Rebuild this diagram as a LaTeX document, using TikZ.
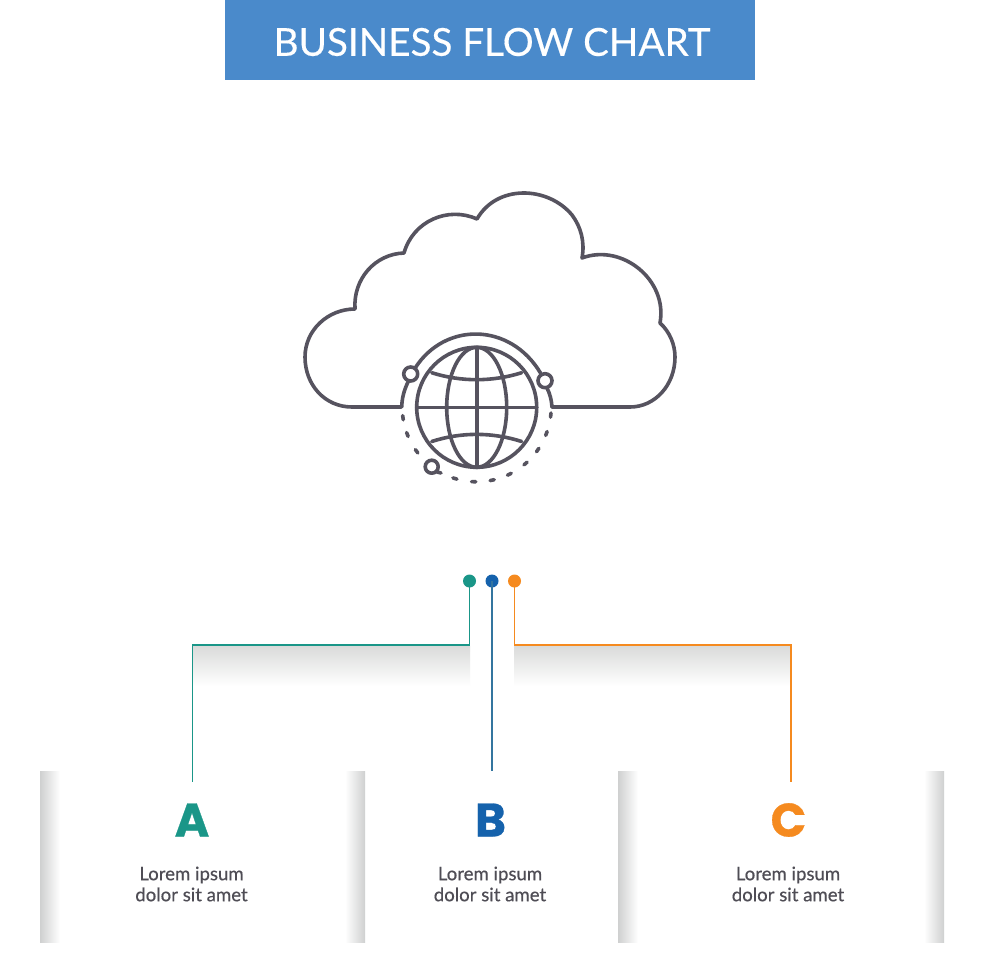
\documentclass[tikz,border=0pt]{standalone}
\usepackage{fontspec}
\usetikzlibrary{calc}
\setmainfont[FakeBold=0.35]{Lato}
\newfontfamily\heavyfont[FakeBold=0.6]{Poppins}
\definecolor{titleblue}{HTML}{4A8ACB}
\definecolor{inkgrey}{HTML}{56535F}
\definecolor{textgrey}{HTML}{4F4D55}
\definecolor{tealc}{HTML}{1A9688}
\definecolor{bluec}{HTML}{1562AC}
\definecolor{bluewire}{HTML}{34759F}
\definecolor{orangec}{HTML}{F58A1F}
\definecolor{shadeg}{HTML}{CFD0D0}
\definecolor{shadeh}{HTML}{DADBDA}
\tikzset{
  icon/.style={draw=inkgrey,line width=3.6pt,line cap=round,line join=round},
  dot/.style={circle,inner sep=0pt,minimum size=13pt},
  wire/.style={line width=1.5pt},
  bigletter/.style={font=\heavyfont\bfseries\fontsize{47}{47}\selectfont,inner sep=0pt},
  body/.style={font=\fontsize{18.6}{21}\selectfont,text=textgrey,align=center,inner sep=0pt},
}
\begin{document}
\begin{tikzpicture}[x=1pt,y=-1pt]
\useasboundingbox (0,0) rectangle (980,980);
\fill[white] (0,0) rectangle (980,980);
% title
\node[fill=titleblue,minimum width=530pt,minimum height=80.5pt,inner sep=0pt] (title) at (490,40) {};
\node[text=white,font=\fontsize{38.6}{39}\selectfont,inner sep=0pt] (titletext) at (492,42) {BUSINESS FLOW CHART};
% cloud
\draw[icon] (401,407) -- (352,407)
  .. controls (325,407) and (305,385) .. (305,357)
  .. controls (305,330) and (328,309) .. (355,309)
  .. controls (353,279) and (375,254) .. (404,253)
  .. controls (413,221) and (448,206) .. (477,219)
  .. controls (497,184) and (548,186) .. (572,215)
  .. controls (581,227) and (585,242) .. (582,258)
  .. controls (622,243) and (668,280) .. (660,323)
  .. controls (670,332) and (675,345) .. (675,357)
  .. controls (675,385) and (655,407) .. (630,407)
  -- (552,407);
% globe
\coordinate (gc) at (476.7,407.3);
\draw[icon] (gc) circle (60);
\draw[icon] (gc) ellipse (30 and 60);
\draw[icon] (476.7,347.3) -- (476.7,467.3);
\draw[icon] (416.7,407.3) -- (536.7,407.3);
\draw[icon] (431.7,372.7) .. controls (461,382) and (492,382) .. (521.7,372.7);
\draw[icon] (431.7,441.5) .. controls (461,432) and (492,432) .. (521.7,441.5);
% orbit
\draw[icon] (415.5,367.5) .. controls (445,322) and (510,322) .. (540.5,373);
\draw[icon] (408.5,381) .. controls (404,390) and (402,398) .. (401.7,407);
\draw[icon] (547,388) .. controls (550,394) and (551.5,400) .. (552,407);
\draw[icon] (410.7,374) circle (7);
\draw[icon] (545,380.7) circle (7);
\draw[icon] (431.7,466.7) circle (6.5);
\draw[icon] (437,472) -- (441,473);
\foreach \a in {172,158.6,143.8,107,92.3,78,64,49,35,20.6,6}{
  \draw[icon] ($(gc)+(\a-1.6:74.5)$) arc[start angle=\a-1.6,end angle=\a+1.6,radius=74.5];
}
% shadows below wires
\shade[top color=shadeh,bottom color=white] (193,646) rectangle (470,686);
\shade[top color=shadeh,bottom color=white] (514,646) rectangle (791,686);
% panels
\shade[left color=shadeg,right color=white] (40,771) rectangle (60,942);
\shade[left color=white,right color=shadeg] (345,771) rectangle (365,942);
\shade[left color=shadeg,right color=white] (618,771) rectangle (638,942);
\shade[left color=white,right color=shadeg] (924,771) rectangle (944,942);
% dots
\node[dot,fill=tealc] (da) at (469.5,581) {};
\node[dot,fill=bluec] (db) at (492,581) {};
\node[dot,fill=orangec] (dc) at (514.5,581) {};
% end points
\coordinate (ea) at (192.5,782);
\coordinate (eb) at (492,771);
\coordinate (ec) at (791,782);
\draw[wire,tealc] (da.center) -- (469.5,645) -- (192.5,645) -- (ea);
\draw[wire,bluewire] (db.center) -- (eb);
\draw[wire,orangec] (dc.center) -- (514.5,645) -- (791,645) -- (ec);
% labels
\node[bigletter,text=tealc] (la) at (192,820) {A};
\node[bigletter,text=bluec] (lb) at (490.5,820) {B};
\node[bigletter,text=orangec] (lc) at (788.5,820) {C};
\node[body] (ta) at (191.5,884) {Lorem ipsum\\dolor sit amet};
\node[body] (tb) at (490,884) {Lorem ipsum\\dolor sit amet};
\node[body] (tc) at (788,884) {Lorem ipsum\\dolor sit amet};
\end{tikzpicture}
\end{document}
